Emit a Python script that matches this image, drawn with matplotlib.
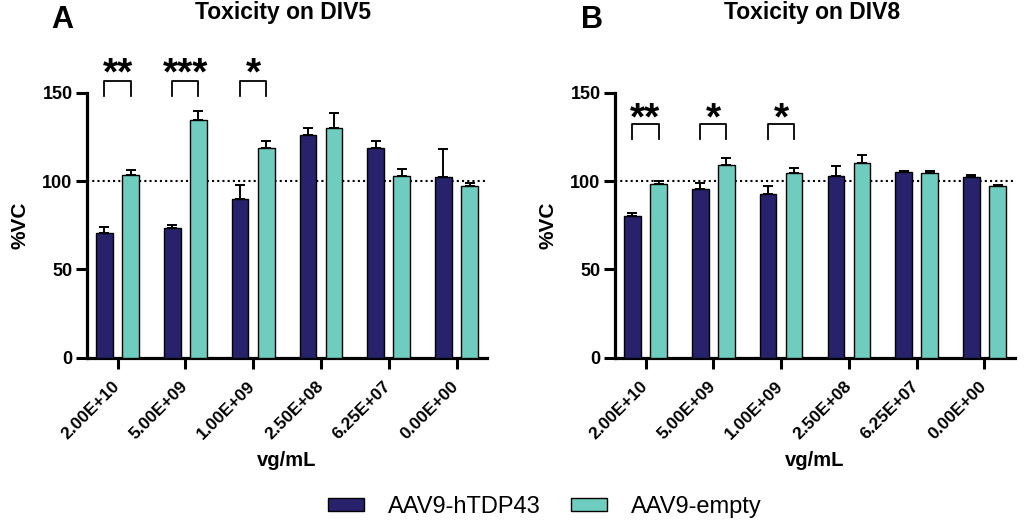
"""Toxicity of AAV9 vectors on DIV5 and DIV8 (grouped bar chart)."""

import matplotlib.pyplot as plt
import numpy as np

plt.rcParams["font.family"] = ["Liberation Sans", "DejaVu Sans"]

doses = ["2.00E+10", "5.00E+09", "1.00E+09", "2.50E+08", "6.25E+07", "0.00E+00"]
series = ["AAV9-hTDP43", "AAV9-empty"]

div5_tdp = [70.6, 73.2, 89.8, 126.2, 118.7, 102.1]
div5_tdp_err = [3.2, 1.7, 7.7, 3.8, 3.8, 16.2]
div5_empty = [103.4, 134.3, 118.9, 129.8, 102.8, 97.2]
div5_empty_err = [2.6, 5.1, 3.6, 8.9, 3.8, 1.5]

div8_tdp = [80.2, 95.7, 92.5, 102.8, 105.3, 102.3]
div8_tdp_err = [1.7, 3.0, 4.9, 5.9, 0.3, 1.3]
div8_empty = [98.3, 109.2, 104.3, 110.0, 104.7, 97.0]
div8_empty_err = [1.9, 3.8, 3.2, 4.7, 1.0, 0.7]

# (group index, stars)
div5_sig = [(0, "**"), (1, "***"), (2, "*")]
div8_sig = [(0, "**"), (1, "*"), (2, "*")]

DARK = "#27226b"
TEAL = "#6fcdbf"


def draw_panel(ax, tdp, tdp_err, empty, empty_err, sig, bracket_y, star_y):
    x = np.arange(len(doses))
    off = 0.193
    w = 0.245
    err_kw = dict(elinewidth=1.4, capsize=3.5, capthick=1.4, ecolor="black")
    ax.bar(x - off, tdp, w, color=DARK, edgecolor="black", linewidth=1,
           yerr=[np.zeros(len(tdp)), tdp_err], error_kw=err_kw, label=series[0],
           zorder=3)
    ax.bar(x + off, empty, w, color=TEAL, edgecolor="black", linewidth=1,
           yerr=[np.zeros(len(empty)), empty_err], error_kw=err_kw,
           label=series[1], zorder=3)

    # vehicle control reference line, behind the bars
    ax.axhline(100, color="black", linestyle=(0, (1, 1.5)), linewidth=1.5,
               zorder=2)

    ax.set_xlim(-0.45, len(doses) - 0.55)
    ax.set_ylim(0, 150)
    ax.set_yticks([0, 50, 100, 150])
    ax.set_xticks(x)
    ax.set_xticklabels(doses, rotation=45, ha="right", va="center",
                       rotation_mode="anchor", fontsize=12.5,
                       fontweight="bold")
    for lab in ax.get_yticklabels():
        lab.set_fontsize(13)
        lab.set_fontweight("bold")
    ax.tick_params(axis="both", direction="out", length=8, width=2.2)
    ax.tick_params(axis="y", pad=2.4)
    ax.tick_params(axis="x", pad=11)

    for s in ["top", "right"]:
        ax.spines[s].set_visible(False)
    for s in ["left", "bottom"]:
        ax.spines[s].set_linewidth(2.3)

    for i, stars in sig:
        x0, x1 = i - off, i + off
        ax.plot([x0, x0, x1, x1], [bracket_y - 8.7, bracket_y, bracket_y,
                                   bracket_y - 8.7],
                color="black", linewidth=1.3, clip_on=False)
        # asterisk ink sits high above the baseline
        ax.text(i, star_y - 12.6, stars, ha="center", va="baseline",
                fontsize=28, fontweight="bold", clip_on=False)

    ax.set_ylabel("%VC", fontsize=15, fontweight="bold")
    ax.yaxis.set_label_coords(-0.145, 0.5)
    ax.set_xlabel("vg/mL", fontsize=14.5, fontweight="bold", labelpad=6)


fig = plt.figure(figsize=(10.24, 5.24), dpi=100)
ax1 = fig.add_axes([0.085, 0.3174, 0.3906, 0.5057])
ax2 = fig.add_axes([0.6006, 0.3174, 0.3906, 0.5057])

draw_panel(ax1, div5_tdp, div5_tdp_err, div5_empty, div5_empty_err, div5_sig,
           156.8, 167.0)
draw_panel(ax2, div8_tdp, div8_tdp_err, div8_empty, div8_empty_err, div8_sig,
           132.3, 141.8)

fig.text(283 / 1024, 1 - 19.5 / 524, "Toxicity on DIV5", ha="center",
         va="baseline", fontsize=16.5, fontweight="bold")
fig.text(812 / 1024, 1 - 19.5 / 524, "Toxicity on DIV8", ha="center",
         va="baseline", fontsize=16.5, fontweight="bold")
fig.text(62.5 / 1024, 1 - 27.5 / 524, "A", ha="center", va="baseline",
         fontsize=22, fontweight="bold")
fig.text(591.7 / 1024, 1 - 27.5 / 524, "B", ha="center", va="baseline",
         fontsize=22, fontweight="bold")

handles, labels = ax1.get_legend_handles_labels()
fig.legend(handles, labels, loc="center", bbox_to_anchor=(0.532, 1 - 507 / 524),
           ncol=2, frameon=False, fontsize=17, handlelength=1.55,
           handleheight=0.47, columnspacing=1.27, handletextpad=1.0)

fig.savefig("out.png", dpi=100)
